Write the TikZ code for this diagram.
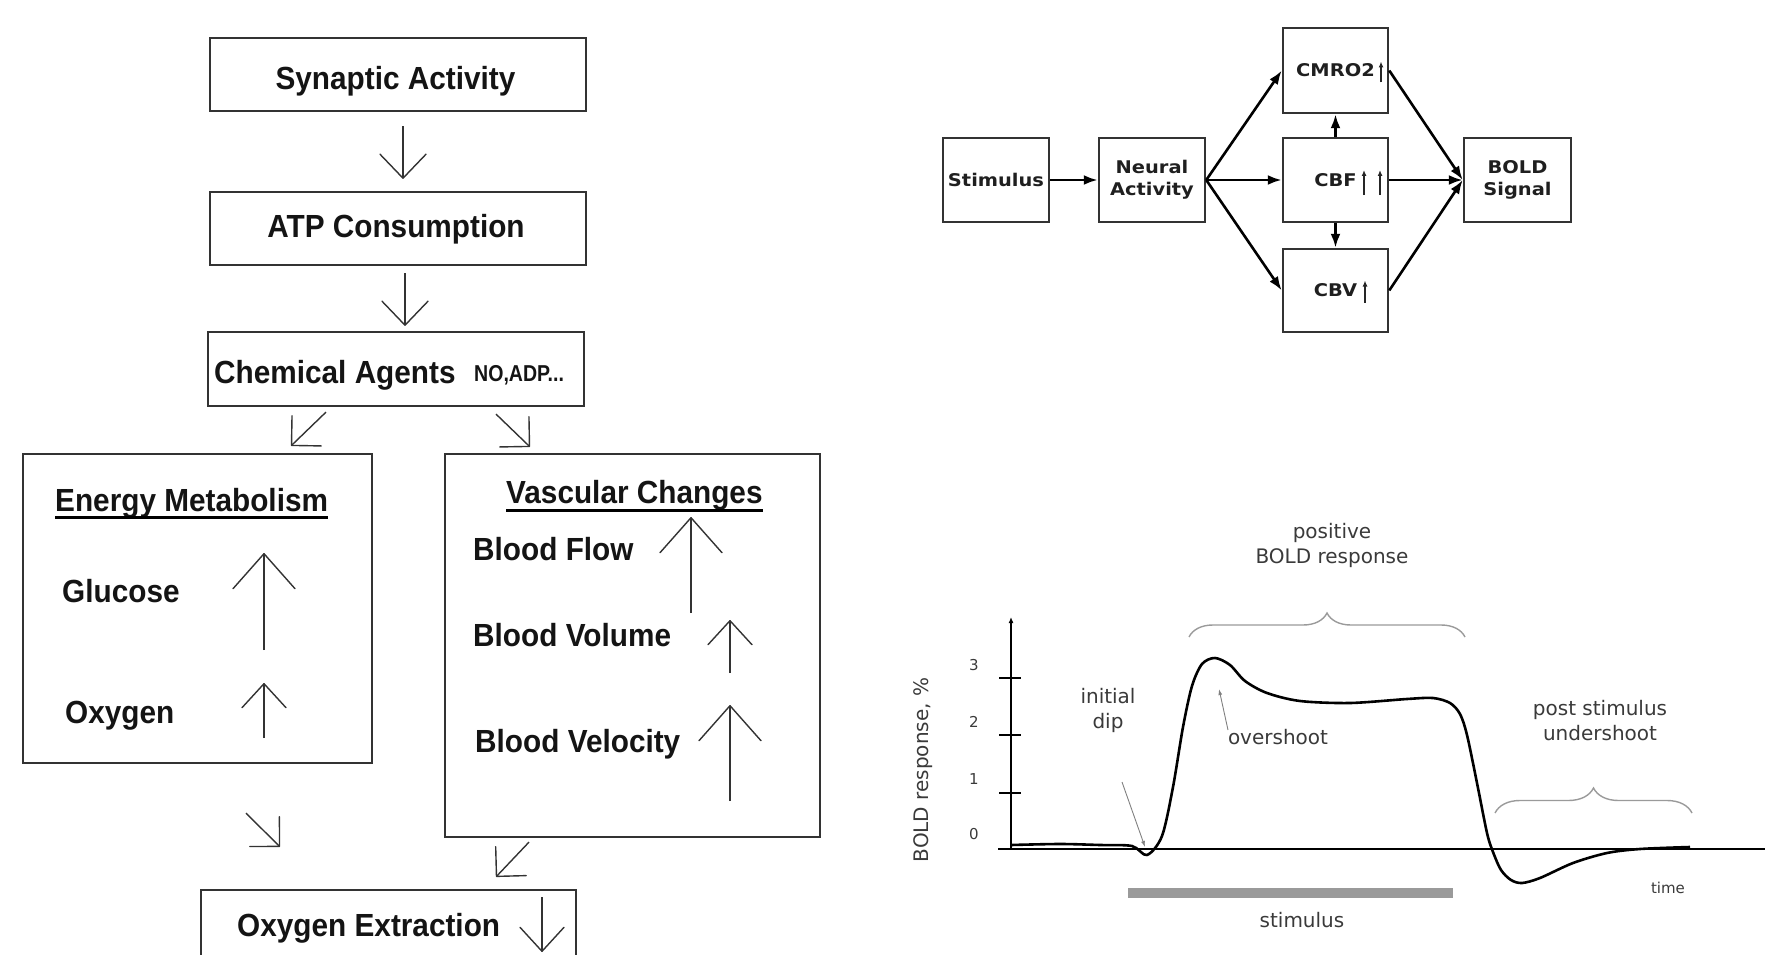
\documentclass[tikz,border=0pt]{standalone}
\usepackage{fontspec}
\usetikzlibrary{arrows.meta,decorations.pathreplacing,calc}
\newfontfamily\lfont[FakeStretch=0.93]{Liberation Sans Bold}
\newfontfamily\sfont[FakeStretch=0.85]{Liberation Sans Bold}
\newfontfamily\bfont[FakeStretch=1.11]{DejaVu Sans Bold}
\newfontfamily\gfont{DejaVu Sans}
\definecolor{boxgray}{HTML}{333333}
\definecolor{txtgray}{HTML}{3A3A3A}
\definecolor{lightgray}{HTML}{9A9A9A}
\begin{document}
\begin{tikzpicture}[x=1pt,y=-1pt,
  lbox/.style={draw=boxgray, line width=2.2pt, inner sep=0pt, rectangle},
  ltext/.style={inner sep=0pt, text=black!92, font=\lfont\fontsize{32}{38}\selectfont},
  lsmall/.style={inner sep=0pt, text=black!92, font=\sfont\fontsize{23}{26}\selectfont},
  larr/.style={draw=boxgray, line width=1.4pt, -{Straight Barb[length=24pt,width=46pt,round]}},
  ldiag/.style={draw=boxgray, line width=1.4pt, -{Straight Barb[length=21pt,width=42pt,round]}},
  bigup/.style={draw=boxgray, line width=1.4pt, -{Straight Barb[length=35pt,width=62pt,round]}},
  smallup/.style={draw=boxgray, line width=1.4pt, -{Straight Barb[length=24pt,width=44pt,round]}},
  ulinestyle/.style={draw=black, line width=3pt},
  bbox/.style={draw=boxgray, line width=2.5pt, inner sep=0pt, rectangle, align=center,
    minimum width=106pt, minimum height=84pt, text=black!88,
    font=\bfont\fontsize{17.5}{22}\selectfont},
  barr/.style={draw=black, line width=2.6pt, -{Latex[length=14pt,width=10pt]}},
  tinyup/.style={draw=black!85, line width=1.6pt, -{Latex[length=6pt,width=5pt]}},
  gtext/.style={inner sep=0pt, text=txtgray, align=center, font=\gfont\fontsize{20}{25}\selectfont},
  ticklab/.style={inner sep=0pt, text=txtgray, font=\gfont\fontsize{15}{18}\selectfont},
  axisline/.style={draw=black, line width=1.5pt},
  curveline/.style={draw=black, line width=2.6pt, line join=round},
  bracestyle/.style={draw=lightgray, line width=1.4pt, decorate},
  ptr/.style={draw=gray, line width=0.9pt, -{Latex[length=6pt,width=4pt]}}
]
\useasboundingbox (0,0) rectangle (1765,955);
\clip (0,0) rectangle (1765,955);

% ---------------- left flow chart ----------------
\node[lbox, minimum width=376pt, minimum height=73pt] (syn) at (398,74.5) {};
\node[ltext, anchor=base] (synt) at (395.5,90) {Synaptic Activity};
\node[lbox, minimum width=376pt, minimum height=73pt] (atp) at (398,228.5) {};
\node[ltext, anchor=base] (atpt) at (396,237) {ATP Consumption};
\node[lbox, minimum width=376pt, minimum height=74pt] (chem) at (396,369) {};
\node[ltext, anchor=base west] (chemt) at (214,383) {Chemical Agents};
\node[lsmall, anchor=base west] (chemx) at (474,381) {NO,ADP...};

\node[lbox, minimum width=349pt, minimum height=309pt] (energy) at (197.5,608.5) {};
\node[ltext, anchor=base west] (emt) at (55,511) {Energy Metabolism};
\draw[ulinestyle] ($(emt.base west)+(0,6)$) -- ($(emt.base east)+(0,6)$);
\node[ltext, anchor=base west] (glu) at (62,602) {Glucose};
\node[ltext, anchor=base west] (oxg) at (65,723) {Oxygen};

\node[lbox, minimum width=375pt, minimum height=383pt] (vasc) at (632.5,645.5) {};
\node[ltext, anchor=base west] (vct) at (506,503) {Vascular Changes};
\draw[ulinestyle] ($(vct.base west)+(0,7)$) -- ($(vct.base east)+(0,7)$);
\node[ltext, anchor=base west] (bfl) at (473,560) {Blood Flow};
\node[ltext, anchor=base west] (bvo) at (473,646) {Blood Volume};
\node[ltext, anchor=base west] (bve) at (475,752) {Blood Velocity};

\node[lbox, minimum width=375pt, minimum height=130pt] (oxy) at (388.5,955) {};
\node[ltext, anchor=base west] (oxyt) at (237,936) {Oxygen Extraction};

% connectors between boxes
\draw[larr] ($(syn.south)+(5,14)$) -- ($(atp.north)+(5,-12)$);
\draw[larr] ($(atp.south)+(7,7)$) -- ($(chem.north)+(9,-5)$);
\draw[ldiag] ($(chem.south)+(-70,5)$) -- ($(energy.north)+(93.5,-7)$);
\draw[ldiag] ($(chem.south)+(100,7)$) -- ($(vasc.north)+(-102.5,-6)$);
\draw[ldiag] ($(energy.south)+(48.5,49)$) -- ($(oxy.north)+(-108.5,-42)$);
\draw[ldiag] ($(vasc.south)+(-103.5,4)$) -- ($(oxy.north)+(107.5,-12)$);

% up / down arrows inside the boxes
\coordinate (gluA) at (264,650); \coordinate (gluB) at (264,553);
\draw[bigup] (gluA) -- (gluB);
\coordinate (oxA) at (264,738); \coordinate (oxB) at (264,683);
\draw[smallup] (oxA) -- (oxB);
\coordinate (flA) at (691,613); \coordinate (flB) at (691,517);
\draw[bigup] (flA) -- (flB);
\coordinate (voA) at (730,673); \coordinate (voB) at (730,620);
\draw[smallup] (voA) -- (voB);
\coordinate (veA) at (730,801); \coordinate (veB) at (730,705);
\draw[bigup] (veA) -- (veB);
\coordinate (exA) at (542,897); \coordinate (exB) at (542,952);
\draw[smallup] (exA) -- (exB);

% ---------------- right block diagram ----------------
\node[bbox] (stim) at (996,180) {Stimulus};
\node[bbox] (neural) at (1152,180) {Neural\\Activity};
\node[bbox, minimum width=105pt, minimum height=85pt] (cmro) at (1335.5,70.5) {CMRO2};
\node[bbox, minimum width=105pt] (cbf) at (1335.5,180) {CBF};
\node[bbox, minimum width=105pt, minimum height=83pt] (cbv) at (1335.5,290.5) {CBV};
\node[bbox, minimum width=107pt] (bold) at (1517.5,180) {BOLD\\Signal};

\draw[barr] (stim) -- (neural);
\draw[barr] (neural.east) -- (cmro.west);
\draw[barr] (neural.east) -- (cbf.west);
\draw[barr] (neural.east) -- (cbv.west);
\draw[barr] (cbf) -- (cmro);
\draw[barr] (cbf) -- (cbv);
\draw[barr] (cmro.east) -- (bold.west);
\draw[barr] (cbf.east) -- (bold.west);
\draw[barr] (cbv.east) -- (bold.west);

\draw[tinyup] ($(cmro.center)+(45.5,12)$) -- ($(cmro.center)+(45.5,-9)$);
\draw[tinyup] ($(cbf.center)+(28.5,15)$) -- ($(cbf.center)+(28.5,-10)$);
\draw[tinyup] ($(cbf.center)+(44.5,15)$) -- ($(cbf.center)+(44.5,-10)$);
\draw[tinyup] ($(cbv.center)+(29.5,12)$) -- ($(cbv.center)+(29.5,-10)$);

% ---------------- BOLD response graph ----------------
\coordinate (org) at (1011,849);
\coordinate (ytop) at (1011,617);
\coordinate (xl) at (998,849);
\coordinate (xr) at (1765,849);
\draw[axisline] (xl) -- (xr);
\draw[axisline, -{Latex[length=6pt,width=5pt]}] (org) -- (ytop);
\foreach \yy in {678,735,793} \draw[axisline] (999,\yy) -- (1021,\yy);
\node[ticklab] (t3) at (974,665) {3};
\node[ticklab] (t2) at (974,722) {2};
\node[ticklab] (t1) at (974,779) {1};
\node[ticklab] (t0) at (974,834) {0};
\node[gtext, rotate=90] (ylab) at (923,770) {BOLD response, \%};

\fill[lightgray] (1128,888) rectangle (1453,898);
\node[gtext] (stimlab) at (1302,920) {stimulus};
\node[ticklab] (timelab) at (1668,888) {time};

\draw[curveline] plot[smooth, tension=0.5] coordinates {(1011,845) (1060,844) (1100,845) (1132,846) (1147,855) (1162,836) (1173,787) (1183,727) (1192,686) (1202,664) (1215,658) (1230,665) (1245,681) (1267,693) (1300,701) (1350,703) (1407,699) (1433,698) (1450,703) (1460,714) (1467,735) (1477,783) (1487,833) (1493,852) (1501,870) (1511,880) (1522,883) (1540,878) (1573,863) (1607,853) (1640,849) (1690,847)};

\draw[bracestyle, decoration={brace, amplitude=24pt}] (1189,637) -- (1465,637);
\draw[bracestyle, decoration={brace, amplitude=25pt}] (1495,813) -- (1692,813);

\node[gtext] (poslab) at (1332,545) {positive\\BOLD response};
\node[gtext] (diplab) at (1108,710) {initial\\dip};
\node[gtext] (overlab) at (1278,737) {overshoot};
\node[gtext] (postlab) at (1600,721) {post stimulus\\undershoot};

\coordinate (dipA) at (1122,782); \coordinate (dipB) at (1145,847);
\draw[ptr] (dipA) -- (dipB);
\coordinate (ovA) at (1228,730); \coordinate (ovB) at (1219,689);
\draw[ptr] (ovA) -- (ovB);
\end{tikzpicture}
\end{document}
